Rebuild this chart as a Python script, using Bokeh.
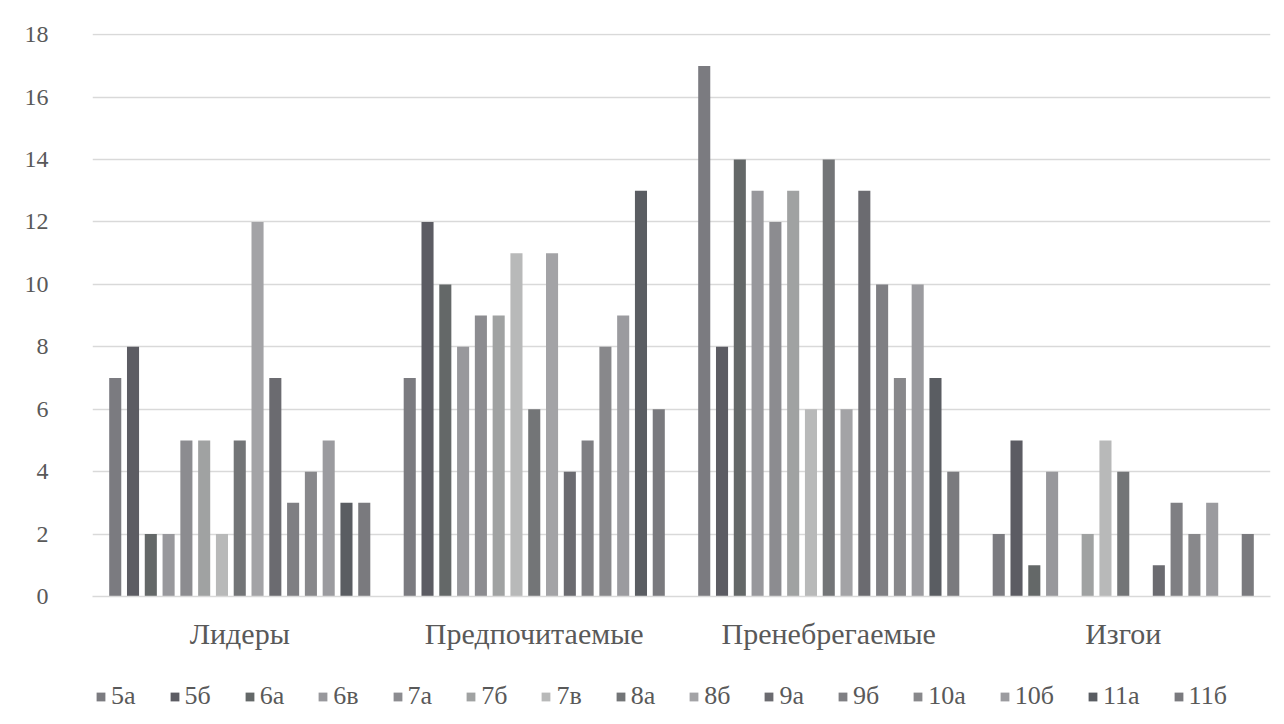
from bokeh.plotting import figure
from bokeh.layouts import column
from bokeh.models import FactorRange, Range1d, FixedTicker, ColumnDataSource, Legend, LegendItem
from bokeh.transform import dodge
from bokeh.embed import file_html
from bokeh.resources import INLINE

categories = ["Лидеры", "Предпочитаемые", "Пренебрегаемые", "Изгои"]
series = ["5а", "5б", "6а", "6в", "7а", "7б", "7в", "8а", "8б", "9а", "9б", "10а", "10б", "11а", "11б"]

leaders   = [7, 8, 2, 2, 5, 5, 2, 5, 12, 7, 3, 4, 5, 3, 3]
preferred = [7, 12, 10, 8, 9, 9, 11, 6, 11, 4, 5, 8, 9, 13, 6]
neglected = [17, 8, 14, 13, 12, 13, 6, 14, 6, 13, 10, 7, 10, 7, 4]
outcasts  = [2, 5, 1, 4, 0, 2, 5, 4, 0, 1, 3, 2, 3, 0, 2]

y_ticks = [0, 2, 4, 6, 8, 10, 12, 14, 16, 18]

colors = ["#7b7b80", "#5c5c63", "#646868", "#98989c", "#8c8c90", "#a0a2a2", "#b8b9b9",
          "#737577", "#a3a3a6", "#6b6b70", "#7f7f83", "#88888b", "#9b9b9f", "#5a5d62", "#7a7a7e"]

FONT = "Liberation Serif"
TXT = "#595959"
W = 1276

p = figure(width=W, height=652, x_range=FactorRange(*categories, range_padding=0),
           y_range=Range1d(0, 18.04), output_backend="svg", toolbar_location=None,
           min_border_left=92, min_border_right=6, min_border_top=33, min_border_bottom=10)

step = 0.0604
bw = 0.041
table = [leaders, preferred, neglected, outcasts]
for j, name in enumerate(series):
    src = ColumnDataSource(dict(cat=categories, val=[row[j] for row in table]))
    off = (j - (len(series) - 1) / 2) * step
    p.vbar(x=dodge("cat", off, range=p.x_range), top="val", width=bw, source=src,
           fill_color=colors[j], line_color=None)

p.outline_line_color = None
p.xgrid.grid_line_color = None
p.ygrid.grid_line_color = "#d9d9d9"
p.ygrid.grid_line_width = 1.3

p.yaxis.ticker = FixedTicker(ticks=y_ticks)
p.yaxis.axis_line_color = None
p.yaxis.major_tick_line_color = None
p.yaxis.minor_tick_line_color = None
p.yaxis.major_label_standoff = 38
p.yaxis.major_label_text_font = FONT
p.yaxis.major_label_text_font_size = "24px"
p.yaxis.major_label_text_color = TXT

p.xaxis.axis_line_color = "#d9d9d9"
p.xaxis.axis_line_width = 1.3
p.xaxis.major_tick_line_color = None
p.xaxis.minor_tick_line_color = None
p.xaxis.major_label_standoff = 14
p.xaxis.major_label_text_font = FONT
p.xaxis.major_label_text_font_size = "30px"
p.xaxis.major_label_text_color = TXT

# legend strip below the chart (its swatch renderers sit outside the strip's visible range)
lf = figure(width=W, height=64, x_range=Range1d(0, 1), y_range=Range1d(0, 1),
            output_backend="svg", toolbar_location=None,
            min_border_left=92, min_border_right=6, min_border_top=0, min_border_bottom=0)
lf.axis.visible = False
lf.grid.visible = False
lf.outline_line_color = None
items = []
for j, name in enumerate(series):
    r = lf.vbar(x=[-1], top=[0], width=0.1, fill_color=colors[j], line_color=None)
    items.append(LegendItem(label=name, renderers=[r]))

legend = Legend(items=items, orientation="horizontal", location=(3, 5),
                glyph_width=11, glyph_height=11, label_standoff=5, spacing=33,
                border_line_color=None, background_fill_alpha=0,
                label_text_font=FONT, label_text_font_size="26px", label_text_color=TXT,
                margin=0, padding=5)
lf.add_layout(legend, "center")

layout = column(p, lf, spacing=0)
open("out.html", "w").write(file_html(layout, INLINE))
